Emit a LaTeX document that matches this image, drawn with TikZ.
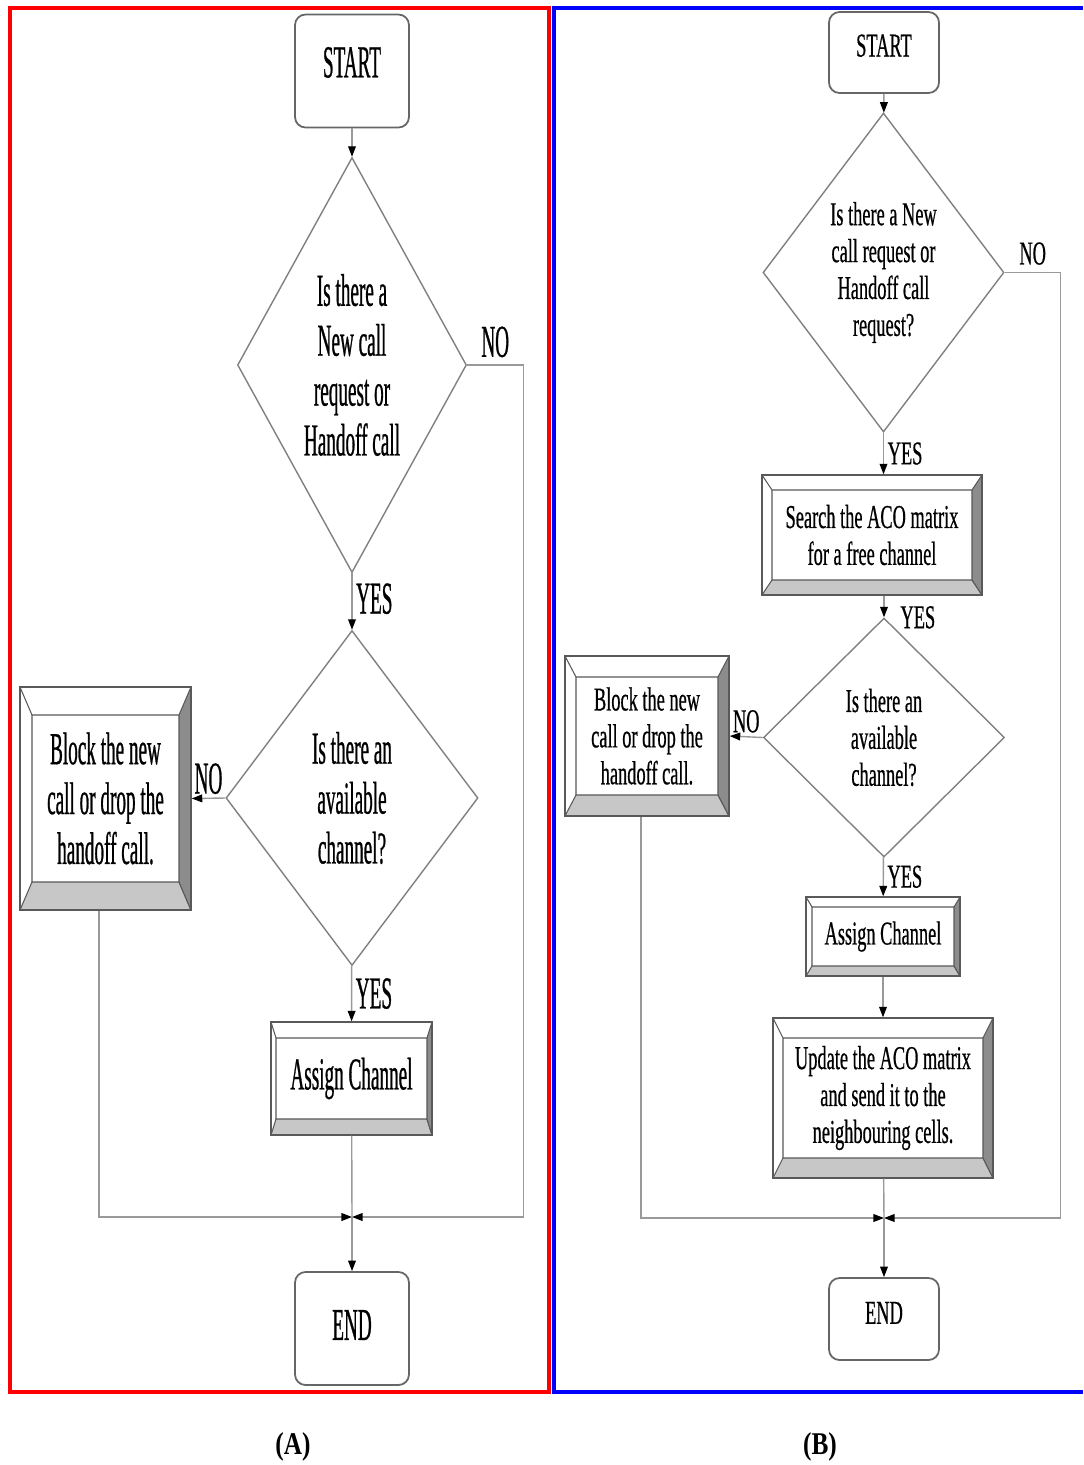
\documentclass[tikz,border=0pt]{standalone}
\usepackage{fontspec}
\setmainfont{Liberation Serif}
\newfontfamily\condA[FakeStretch=0.42, FakeBold=0.6]{Liberation Serif}
\newfontfamily\condB[FakeStretch=0.55, FakeBold=0.5]{Liberation Serif}
\newfontfamily\capfont[FakeStretch=0.8]{Liberation Serif}
\usetikzlibrary{arrows.meta,shapes.geometric}
\tikzset{
    fontA/.style={font=\condA\fontsize{26}{28.4}\selectfont},
    fontB/.style={font=\condB\fontsize{19}{21}\selectfont},
    term/.style 2 args={
        draw=black!60, line width=1pt, fill=white, rounded corners=6pt,
        minimum width=#1*0.02cm, minimum height=#2*0.02cm, inner sep=0pt
    },
    decision/.style n args={3}{
        diamond, draw=black!50, line width=0.8pt, align=center, inner sep=0pt,
        minimum width=#1*0.02cm, minimum height=#2*0.02cm, aspect=#3
    },
    bevelbox/.style n args={4}{
        draw=black!65, line width=0.8pt, fill=white, align=center, inner sep=0pt,
        minimum width=#1*0.02cm, minimum height=#2*0.02cm,
        path picture={
            \coordinate (bvA) at (path picture bounding box.south west);
            \coordinate (bvC) at (path picture bounding box.north east);
            \coordinate (bvB) at (bvC |- bvA);
            \coordinate (bvD) at (bvA |- bvC);
            \coordinate (bva) at ([shift={(#3,#4)}]bvA);
            \coordinate (bvb) at ([shift={(-#3,#4)}]bvB);
            \coordinate (bvc) at ([shift={(-#3,-#4)}]bvC);
            \coordinate (bvd) at ([shift={(#3,-#4)}]bvD);
            \filldraw[fill=black!22, draw=black!65, line width=0.6pt] (bvA) -- (bvB) -- (bvb) -- (bva) -- cycle;
            \filldraw[fill=black!45, draw=black!65, line width=0.6pt] (bvB) -- (bvC) -- (bvc) -- (bvb) -- cycle;
            \draw[black!65, line width=0.6pt] (bvD) -- (bvd) -- (bvc) (bvd) -- (bva);
        }
    },
    flow/.style={draw=black!40, line width=0.8pt, -{Triangle[color=black, length=6pt, width=4.4pt]}},
    link/.style={draw=black!40, line width=0.8pt},
    lbl/.style={inner sep=2pt},
}

\begin{document}
\begin{tikzpicture}[x=0.02cm, y=0.02cm]
    \useasboundingbox (0,0) rectangle (1083,-1465);

    % Frames
    \draw[red, line width=2.2pt] (10,-8) rectangle (549,-1392);
    \draw[blue, line width=2.2pt] (1083,-8) -- (554,-8) -- (554,-1392) -- (1083,-1392);

    % Panel A
    \begin{scope}[fontA]
    \node[term={114}{113}, text depth=10pt] (startA) at (352,-71) {START};
    \node[decision={229}{415}{0.55}] (dec1A) at (352,-365) {Is there a\\New call\\request or\\Handoff call};
    \node[decision={252}{335}{0.75}] (dec2A) at (352,-798) {Is there an\\available\\channel?};
    \node[bevelbox={171}{223}{12}{28}] (blockA) at (105.5,-798.5) {Block the new\\call or drop the\\handoff call.};
    \node[bevelbox={161}{113}{5}{16}] (assignA) at (351.5,-1078.5) {Assign Channel};
    \node[term={114}{113}, text depth=4pt] (endA) at (352,-1328.5) {END};
    \coordinate (joinA) at (352,-1217);

    \draw[flow] (startA) -- (dec1A);
    \draw[flow] (dec1A) -- node[lbl, right, pos=0.45] (yes1A) {YES} (dec2A);
    \draw[flow] (dec2A.west) -- node[lbl, above] (no2A) {NO} (blockA.east);
    \draw[flow] (dec2A) -- node[lbl, right] (yes2A) {YES} (assignA);
    \draw[link] (assignA) -- (joinA);
    \draw[flow] ([xshift=-3.6pt]blockA.south) |- (joinA);
    \draw[flow] (dec1A.east) -- node[lbl, above, yshift=2pt] (no1A) {NO} ++(56,0) |- (joinA);
    \draw[flow] (joinA) -- (endA);
    \end{scope}

    % Panel B
    \begin{scope}[fontB]
    \node[term={110}{81}, text depth=8pt] (startB) at (884,-52.5) {START};
    \node[decision={241}{319}{0.755}] (dec1B) at (883.5,-272.5) {Is there a New\\call request or\\Handoff call\\request?};
    \node[bevelbox={220}{120}{10}{15}] (searchB) at (872,-535) {Search the ACO matrix\\for a free channel};
    \node[decision={241}{239}{1}] (dec2B) at (884,-737.5) {Is there an\\available\\channel?};
    \node[bevelbox={164}{160}{11}{21}] (blockB) at (647,-736) {Block the new\\call or drop the\\handoff call.};
    \node[bevelbox={154}{79}{6}{10}] (assignB) at (883,-936.5) {Assign Channel};
    \node[bevelbox={220}{160}{10}{20}] (updateB) at (883,-1098) {Update the ACO matrix\\and send it to the\\neighbouring cells.};
    \node[term={110}{82}, text depth=7pt] (endB) at (884,-1319) {END};
    \coordinate (joinB) at (884,-1218);

    \draw[flow] (startB) -- (dec1B);
    \draw[flow] (dec1B.south) -- node[lbl, right] (yes1B) {YES} (dec1B.south |- searchB.north);
    \draw[flow] (dec2B.north |- searchB.south) -- node[lbl, anchor=west, pos=1, xshift=7pt] (yes2B) {YES} (dec2B.north);
    \draw[flow] (dec2B.west) -- node[lbl, above] (no2B) {NO} (blockB.east);
    \draw[flow] (dec2B) -- node[lbl, right] (yes3B) {YES} (assignB);
    \draw[flow] (assignB) -- (updateB);
    \draw[link] (updateB) -- (joinB);
    \draw[flow] ([xshift=-3.4pt]blockB.south) |- (joinB);
    \draw[flow] (dec1B.east) -- node[lbl, above, yshift=2pt] (no1B) {NO} ++(56,0) |- (joinB);
    \draw[flow] (joinB) -- (endB);
    \end{scope}

    % Captions
    \node[font=\capfont\bfseries\fontsize{18}{20}\selectfont] (capA) at (293,-1447) {(A)};
    \node[font=\capfont\bfseries\fontsize{18}{20}\selectfont] (capB) at (820,-1447) {(B)};
\end{tikzpicture}
\end{document}
